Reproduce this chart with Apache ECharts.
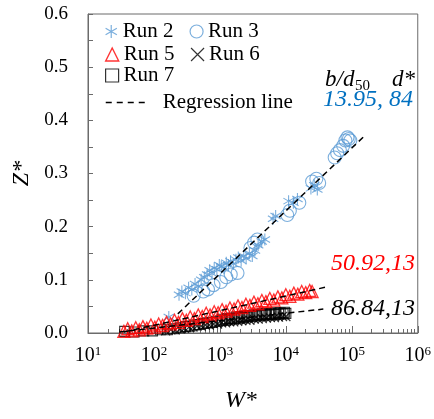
<!DOCTYPE html>
<html>
<head>
<meta charset="utf-8">
<script src="https://cdn.jsdelivr.net/npm/echarts@6/dist/echarts.min.js"></script>
<style>
  html, body { margin: 0; padding: 0; background: #fff; }
  #chart { width: 434px; height: 419px; }
</style>
</head>
<body>
<div id="chart"></div>
<script>
// Run 2 (asterisks)
const run2W = [168, 240, 265, 300, 335, 375, 420, 470, 520, 580, 640, 700, 760, 820, 900, 980, 1050, 1150, 1250, 1350, 1450, 1600, 1750, 1900, 2100, 2300, 2500, 2800, 3100, 3400, 3800, 4300, 4800, 6400, 7000, 11000, 13000, 15000, 24000, 27000, 30000];
const run2Z = [0.030, 0.072, 0.078, 0.075, 0.085, 0.082, 0.092, 0.088, 0.100, 0.105, 0.110, 0.118, 0.112, 0.122, 0.120, 0.128, 0.125, 0.122, 0.132, 0.128, 0.135, 0.130, 0.138, 0.142, 0.136, 0.145, 0.140, 0.150, 0.145, 0.155, 0.165, 0.172, 0.176, 0.215, 0.220, 0.248, 0.245, 0.252, 0.272, 0.278, 0.270];

// Run 3 (open circles)
const run3W = [400, 560, 660, 800, 1035, 1250, 1460, 1850, 2900, 3300, 3700, 10500, 11500, 16000, 25000, 29000, 32000, 55000, 60000, 66000, 74000, 80000, 86000, 90000, 95000];
const run3Z = [0.070, 0.078, 0.082, 0.090, 0.096, 0.105, 0.110, 0.113, 0.160, 0.170, 0.176, 0.222, 0.230, 0.245, 0.285, 0.290, 0.282, 0.330, 0.338, 0.344, 0.352, 0.362, 0.368, 0.365, 0.362];

// Run 5 (open triangles)
const run5W = [35, 40, 46, 53, 60, 68, 78, 90, 103, 118, 135, 155, 178, 205, 235, 270, 310, 355, 410, 470, 540, 620, 710, 820, 940, 1080, 1240, 1420, 1640, 1880, 2160, 2480, 2850, 3280, 3770, 4330, 4980, 5720, 6580, 7560, 8690, 9990, 11500, 13200, 15200, 17400, 20000, 23000, 25000];
const run5Z = [0.003, 0.008, 0.004, 0.010, 0.006, 0.012, 0.009, 0.015, 0.011, 0.017, 0.014, 0.020, 0.017, 0.024, 0.020, 0.027, 0.024, 0.030, 0.027, 0.034, 0.031, 0.037, 0.034, 0.040, 0.038, 0.044, 0.041, 0.047, 0.045, 0.051, 0.048, 0.054, 0.052, 0.058, 0.055, 0.061, 0.059, 0.065, 0.062, 0.068, 0.066, 0.072, 0.069, 0.075, 0.073, 0.078, 0.076, 0.080, 0.078];

// Run 6 (crosses)
const run6W = [150, 180, 210, 250, 290, 340, 390, 450, 520, 600, 690, 800, 920, 1060, 1220, 1400, 1620, 1860, 2150, 2480, 2850, 3300, 3800, 4380, 5050, 5820, 6700, 7730, 8900, 10000];
const run6Z = [0.004, 0.006, 0.006, 0.008, 0.009, 0.011, 0.011, 0.013, 0.013, 0.015, 0.015, 0.017, 0.017, 0.019, 0.019, 0.021, 0.021, 0.022, 0.023, 0.024, 0.024, 0.026, 0.026, 0.027, 0.028, 0.029, 0.029, 0.030, 0.031, 0.031];

// Run 7 (open squares)
const run7W = [36, 50, 70, 95, 125, 160, 200, 250, 300, 350, 410, 480, 560, 650, 760, 890, 1040, 1100, 1210, 1300, 1410, 1500, 1650, 1800, 1930, 2100, 2250, 2400, 2630, 2800, 3070, 3300, 3580, 3800, 4180, 4400, 4880, 5100, 5700, 6000, 6650, 7000, 7760, 8200, 9060, 9500, 10000];
const run7Z = [0.003, 0.002, 0.004, 0.004, 0.006, 0.006, 0.008, 0.010, 0.012, 0.013, 0.015, 0.016, 0.018, 0.019, 0.020, 0.022, 0.023, 0.026, 0.024, 0.027, 0.025, 0.028, 0.027, 0.030, 0.028, 0.031, 0.029, 0.032, 0.030, 0.033, 0.031, 0.034, 0.032, 0.035, 0.033, 0.036, 0.034, 0.036, 0.034, 0.037, 0.035, 0.038, 0.036, 0.038, 0.036, 0.039, 0.037];

// Regression line end points
const regAW = [230, 160000];   const regAZ = [0.036, 0.372];   // b/d50 = 13.95, d* = 84
const regBW = [35, 43000];     const regBZ = [0.002, 0.087];   // b/d50 = 50.92, d* = 13
const regCW = [30, 37000];     const regCZ = [0.002, 0.045];   // b/d50 = 86.84, d* = 13

// Axis ticks
const xDecades = [10, 100, 1000, 10000, 100000, 1000000];
const yTicks = [0, 0.1, 0.2, 0.3, 0.4, 0.5, 0.6];

const xMinor = [];
for (let d = 0; d < xDecades.length - 1; d++) {
  for (let m = 2; m <= 9; m++) xMinor.push(xDecades[d] * m);
}

const pairs = (xs, ys) => xs.map((x, i) => [x, ys[i]]);

const SERIF = '"Liberation Serif", "Times New Roman", serif';
const AXIS_GRAY = '#6b6b6b';
const BLUE = '#5B9BD5';
const RED = '#FF0000';

const asterisk = 'path://M5,0L5,10M0.67,2.5L9.33,7.5M0.67,7.5L9.33,2.5';
const cross = 'path://M0,0L10,10M0,10L10,0';

const chart = echarts.init(document.getElementById('chart'), null, { renderer: 'canvas' });

const regLine = (w, z) => ({
  name: 'Regression line',
  type: 'line',
  data: pairs(w, z),
  symbol: 'none',
  silent: true,
  z: 5,
  itemStyle: { color: '#000' },
  lineStyle: { color: '#000', width: 1.5, type: [6, 4] }
});

const legendBase = {
  orient: 'horizontal',
  padding: 0,
  itemGap: 16,
  itemWidth: 13,
  itemHeight: 13,
  selectedMode: false,
  textStyle: { fontFamily: SERIF, fontSize: 21, color: '#000' }
};

chart.setOption({
  animation: false,
  backgroundColor: '#fff',
  grid: {
    left: 88, right: 12, top: 14, bottom: 86,
    show: true, borderColor: AXIS_GRAY, borderWidth: 1, backgroundColor: 'transparent'
  },
  legend: [
    Object.assign({}, legendBase, {
      left: 105, top: 21,
      data: [
        { name: 'Run 2', itemStyle: { borderWidth: 1.2 } },
        { name: 'Run 3', itemStyle: { borderWidth: 1.2 } }
      ]
    }),
    Object.assign({}, legendBase, {
      left: 105, top: 44,
      data: [
        { name: 'Run 5', itemStyle: { borderWidth: 1.4 } },
        { name: 'Run 6', itemStyle: { borderWidth: 1.2 } }
      ]
    }),
    Object.assign({}, legendBase, {
      left: 105, top: 65,
      data: [{ name: 'Run 7', itemStyle: { borderWidth: 1.2 } }]
    }),
    Object.assign({}, legendBase, {
      left: 105, top: 92,
      itemWidth: 43,
      data: [{
        name: 'Regression line',
        itemStyle: { opacity: 0 },
        lineStyle: { width: 1.5, type: [6, 5], color: '#000' }
      }],
      textStyle: { fontFamily: SERIF, fontSize: 21, color: '#000', padding: [0, 0, 0, 9] }
    })
  ],
  xAxis: [
    {
      type: 'log', logBase: 10, min: 10, max: 1000000, position: 'bottom',
      name: 'W*', nameLocation: 'middle', nameGap: 56,
      nameTextStyle: { fontFamily: SERIF, fontStyle: 'italic', fontSize: 24, color: '#000', padding: [0, 24, 0, 0] },
      axisLine: { show: true, lineStyle: { color: AXIS_GRAY, width: 1 } },
      axisTick: { show: true, inside: true, length: 7, customValues: xDecades, lineStyle: { color: AXIS_GRAY } },
      axisLabel: {
        customValues: xDecades,
        margin: 12,
        formatter: v => '{b|10}{s|' + Math.round(Math.log10(v)) + '}',
        rich: {
          b: { fontFamily: SERIF, fontSize: 20, color: '#000', lineHeight: 22 },
          s: { fontFamily: SERIF, fontSize: 13, color: '#000', lineHeight: 13, verticalAlign: 'top' }
        }
      },
      splitLine: { show: false }
    },
    {
      type: 'log', logBase: 10, min: 10, max: 1000000, position: 'bottom',
      axisLine: { show: false },
      axisLabel: { show: false },
      axisTick: { show: true, inside: true, length: 4, customValues: xMinor, lineStyle: { color: AXIS_GRAY } },
      splitLine: { show: false }
    }
  ],
  yAxis: {
    type: 'value', min: 0, max: 0.6, interval: 0.1,
    name: 'Z*', nameLocation: 'middle', nameGap: 52, nameRotate: 90,
    nameTextStyle: { fontFamily: SERIF, fontStyle: 'italic', fontSize: 24, color: '#000' },
    axisLine: { show: true, lineStyle: { color: AXIS_GRAY, width: 1 } },
    axisTick: { show: true, inside: true, length: 5, lineStyle: { color: AXIS_GRAY } },
    minorTick: { show: true, splitNumber: 2, length: 5, lineStyle: { color: AXIS_GRAY } },
    axisLabel: {
      margin: 20,
      fontFamily: SERIF, fontSize: 19, color: '#000',
      formatter: v => yTicks.indexOf(Math.round(v * 10) / 10) >= 0 ? v.toFixed(1) : ''
    },
    splitLine: { show: false },
    minorSplitLine: { show: false }
  },
  series: [
    {
      name: 'Run 3', type: 'scatter', data: pairs(run3W, run3Z),
      symbol: 'circle', symbolSize: 13,
      itemStyle: { color: 'transparent', borderColor: BLUE, borderWidth: 1.1 }
    },
    {
      name: 'Run 2', type: 'scatter', data: pairs(run2W, run2Z),
      symbol: asterisk, symbolSize: 12, symbolKeepAspect: true,
      itemStyle: { color: 'transparent', borderColor: BLUE, borderWidth: 1.1 }
    },
    {
      name: 'Run 7', type: 'scatter', data: pairs(run7W, run7Z),
      symbol: 'rect', symbolSize: 10,
      itemStyle: { color: 'transparent', borderColor: '#000', borderWidth: 1.1 }
    },
    {
      name: 'Run 6', type: 'scatter', data: pairs(run6W, run6Z),
      symbol: cross, symbolSize: 9,
      itemStyle: { color: 'transparent', borderColor: '#000', borderWidth: 1.2 }
    },
    {
      name: 'Run 5', type: 'scatter', data: pairs(run5W, run5Z),
      symbol: 'triangle', symbolSize: 12,
      itemStyle: { color: 'transparent', borderColor: RED, borderWidth: 1.3 }
    },
    regLine(regAW, regAZ),
    regLine(regBW, regBZ),
    regLine(regCW, regCZ)
  ],
  graphic: [
    { type: 'text', x: 325, y: 80, style: { text: 'b/d', font: 'italic 23px ' + SERIF, fill: '#000', textVerticalAlign: 'middle' } },
    { type: 'text', x: 355, y: 86, style: { text: '50', font: '15px ' + SERIF, fill: '#000', textVerticalAlign: 'middle' } },
    { type: 'text', x: 415, y: 80, style: { text: 'd*', font: 'italic 23px ' + SERIF, fill: '#000', textAlign: 'right', textVerticalAlign: 'middle' } },
    { type: 'text', x: 413, y: 100, style: { text: '13.95, 84', font: 'italic 24px ' + SERIF, fill: '#0070C0', textAlign: 'right', textVerticalAlign: 'middle' } },
    { type: 'text', x: 415, y: 264, style: { text: '50.92,13', font: 'italic 24px ' + SERIF, fill: RED, textAlign: 'right', textVerticalAlign: 'middle' } },
    { type: 'text', x: 415, y: 309, style: { text: '86.84,13', font: 'italic 24px ' + SERIF, fill: '#000', textAlign: 'right', textVerticalAlign: 'middle' } }
  ]
});
</script>
</body>
</html>
